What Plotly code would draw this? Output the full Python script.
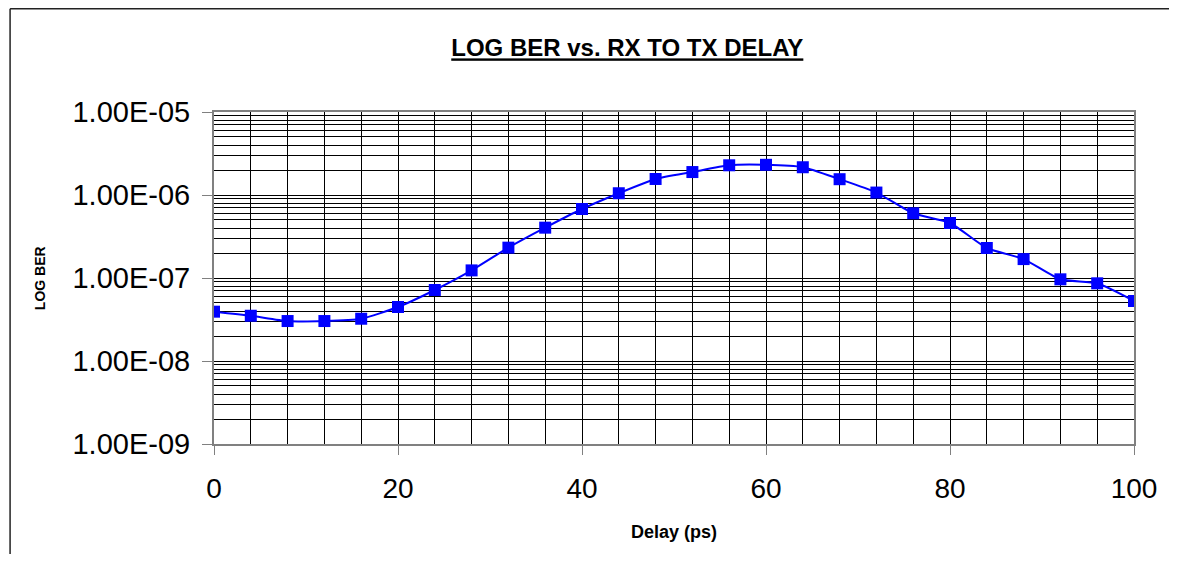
import plotly.graph_objects as go

delay_ps = [0, 4, 8, 12, 16, 20, 24, 28, 32, 36, 40, 44, 48, 52, 56, 60, 64, 68, 72, 76, 80, 84, 88, 92, 96, 100]
ber = [3.93e-8, 3.51e-8, 3.03e-8, 3.03e-8, 3.23e-8, 4.47e-8, 7.17e-8, 1.235e-7, 2.32e-7, 4.04e-7,
       6.78e-7, 1.05e-6, 1.56e-6, 1.89e-6, 2.28e-6, 2.31e-6, 2.16e-6, 1.55e-6, 1.07e-6, 6.02e-7,
       4.60e-7, 2.30e-7, 1.69e-7, 9.64e-8, 8.63e-8, 5.28e-8]

y_tick_vals = [1e-9, 1e-8, 1e-7, 1e-6, 1e-5]
y_tick_text = ["1.00E-09", "1.00E-08", "1.00E-07", "1.00E-06", "1.00E-05"]
y_minor_vals = [m * 10.0 ** e for e in range(-9, -5) for m in range(2, 10)]
x_tick_vals = [0, 20, 40, 60, 80, 100]

title_text = "LOG BER vs. RX TO TX DELAY"
x_title = "Delay (ps)"
y_title = "LOG BER"

FONT = "Liberation Sans, Arial, sans-serif"

# page has an 8px body margin; figure sized so the page is exactly 1177x562
W, H = 1161, 546
L, T, R, B = 206, 104, 29, 110
PW, PH = W - L - R, H - T - B

fig = go.Figure()
fig.add_trace(go.Scatter(
    x=delay_ps, y=ber, mode="lines+markers",
    line=dict(color="#0000FF", width=2, shape="spline", smoothing=0.6),
    marker=dict(symbol="square", size=12, color="#0000FF"),
    showlegend=False,
))

fig.update_layout(
    width=W, height=H,
    margin=dict(l=L, r=R, t=T, b=B),
    paper_bgcolor="white", plot_bgcolor="white",
    font=dict(family=FONT, color="black"),
    title=dict(text="<b><u>" + title_text + "</u></b>", font=dict(size=24, family=FONT, color="black"),
               x=(622 - L) / PW, xref="paper", xanchor="center", y=1 - 40 / H, yref="container", yanchor="middle"),
)

fig.update_xaxes(
    range=[0, 100], tickvals=x_tick_vals, ticks="outside", ticklen=9, tickwidth=1, tickcolor="#808080",
    tickfont=dict(size=28, family=FONT, color="black"), ticklabelstandoff=9,
    showgrid=True, gridcolor="black", gridwidth=1,
    minor=dict(dtick=4, tick0=0, showgrid=True, gridcolor="black", gridwidth=1, ticks=""),
    showline=True, linecolor="#808080", linewidth=2, mirror=True, zeroline=False,
)
fig.update_yaxes(
    type="log", range=[-9, -5], tickvals=y_tick_vals, ticktext=y_tick_text,
    ticks="outside", ticklen=10, tickwidth=1, tickcolor="#808080",
    tickfont=dict(size=29, family=FONT, color="black"), ticklabelstandoff=6,
    showgrid=True, gridcolor="black", gridwidth=1,
    minor=dict(tickvals=y_minor_vals, showgrid=True, gridcolor="black", gridwidth=1, ticks=""),
    showline=True, linecolor="#808080", linewidth=2, mirror=True, zeroline=False,
)

fig.add_annotation(text="<b>" + x_title + "</b>", x=0.5, y=(PH - (532 - 8 - T)) / PH, xref="paper", yref="paper",
                   xanchor="center", yanchor="middle", showarrow=False,
                   font=dict(size=18, family=FONT, color="black"))
fig.add_annotation(text="<b>" + y_title + "</b>", x=(31 - L) / PW, y=0.5, xref="paper", yref="paper",
                   xanchor="center", yanchor="middle", showarrow=False, textangle=-90,
                   font=dict(size=14, family=FONT, color="black"))

# outer chart frame: only the left and top edges are visible in the reference
fx = (0.75 - L) / PW
fy = (PH + T - 0.75) / PH
frame = dict(color="#222222", width=1.5)
fig.add_shape(type="line", xref="paper", yref="paper", x0=fx, x1=fx, y0=-B / PH - 0.1, y1=fy, line=frame)
fig.add_shape(type="line", xref="paper", yref="paper", x0=fx, x1=1 + R / PW + 0.1, y0=fy, y1=fy, line=frame)

fig.write_html("out.html")
